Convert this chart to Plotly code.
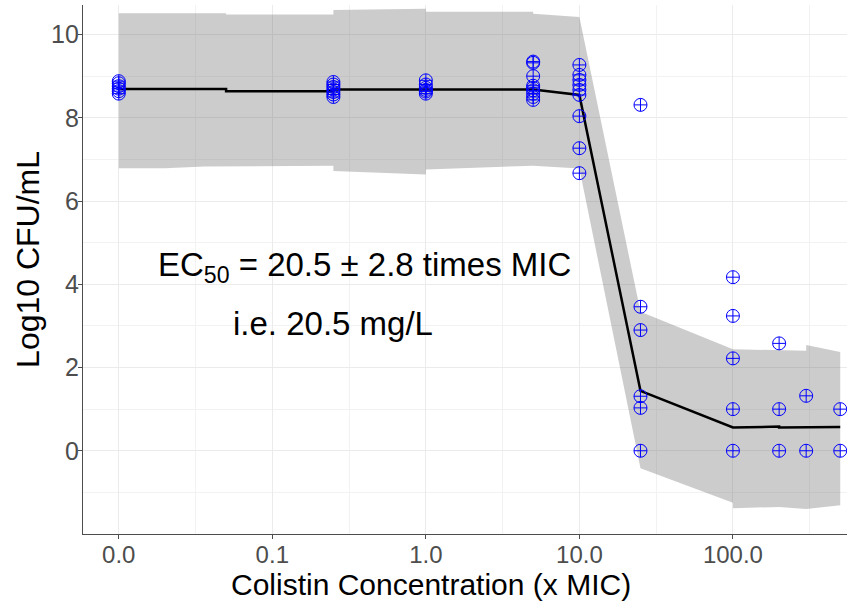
import plotly.graph_objects as go

# ---------------- data ----------------
ZERO_POS = 0.01  # where concentration 0 is shown on the log axis

conc_groups = [0, 0.25, 1, 5, 10, 25, 100, 200, 300, 500]
log_cfu_groups = [
    [8.88, 8.83, 8.76, 8.70, 8.64, 8.58],
    [8.86, 8.80, 8.74, 8.68, 8.62, 8.56, 8.50],
    [8.90, 8.80, 8.72, 8.67, 8.63, 8.58],
    [9.35, 9.32, 9.00, 8.77, 8.72, 8.66, 8.58, 8.50, 8.43],
    [9.27, 9.03, 8.91, 8.79, 8.67, 8.55, 8.04, 7.27, 6.67],
    [8.31, 3.46, 2.90, 1.31, 1.03, 0.00],
    [4.17, 3.24, 2.22, 1.00, 0.00],
    [2.58, 1.00, 0.00],
    [1.32, 0.00],
    [1.00, 0.00],
]

# model median
med_x = [0, 0.05, 0.05, 0.25, 0.25, 5, 10, 25, 100, 200, 200, 300, 500]
med_y = [8.69, 8.69, 8.64, 8.64, 8.68, 8.68, 8.55, 1.44, 0.56, 0.58, 0.56, 0.57, 0.57]

# prediction interval (upper / lower edges)
rib_up_x = [0, 0.05, 0.05, 0.25, 0.25, 0.5, 1, 1, 5, 5, 10, 25, 100, 300, 300, 500]
rib_up_y = [10.51, 10.51, 10.48, 10.48, 10.59, 10.60, 10.62, 10.55, 10.55, 10.50, 10.42,
            3.34, 2.44, 2.40, 2.54, 2.37]
rib_lo_x = [0, 0.02, 0.036, 0.25, 0.25, 0.315, 1, 1, 5, 10, 25, 100, 100, 200, 300, 500]
rib_lo_y = [6.79, 6.79, 6.83, 6.85, 6.72, 6.71, 6.64, 6.76, 6.85, 6.78,
            -0.42, -1.25, -1.38, -1.35, -1.40, -1.31]

x_tickvals = [0.01, 0.1, 1, 10, 100]
x_ticktext = ["0.0", "0.1", "1.0", "10.0", "100.0"]
x_minorvals = [0.0316, 0.316, 3.16, 31.6, 316]
y_tickvals = [0, 2, 4, 6, 8, 10]

annot_line1 = "EC<sub>50</sub> = 20.5 ± 2.8 times MIC"
annot_line2 = "i.e. 20.5 mg/L"
x_title = "Colistin Concentration (x MIC)"
y_title = "Log10 CFU/mL"


def pos(c):
    return ZERO_POS if c == 0 else c


FONT = "Liberation Sans, Arial, sans-serif"

obs_x, obs_y = [], []
for c, vals in zip(conc_groups, log_cfu_groups):
    for v in vals:
        obs_x.append(pos(c))
        obs_y.append(v)

poly_x = [pos(c) for c in rib_up_x] + [pos(c) for c in reversed(rib_lo_x)]
poly_y = list(rib_up_y) + list(reversed(rib_lo_y))

fig = go.Figure()
fig.add_trace(go.Scatter(
    x=poly_x, y=poly_y, mode="lines", fill="toself",
    fillcolor="rgba(85,85,85,0.30)", line=dict(width=0),
    hoverinfo="skip", showlegend=False))
fig.add_trace(go.Scatter(
    x=[pos(c) for c in med_x], y=med_y, mode="lines",
    line=dict(color="black", width=2.5), showlegend=False))
fig.add_trace(go.Scatter(
    x=obs_x, y=obs_y, mode="markers",
    marker=dict(symbol="circle-cross-open", size=13, color="#0000FF",
                line=dict(width=1, color="#0000FF")),
    showlegend=False))

# white box behind the EC50 text
fig.add_shape(type="rect", xref="paper", yref="paper",
              x0=0.031, x1=0.641, y0=0.344, y1=0.609,
              fillcolor="white", line=dict(width=0), layer="between")

fig.add_annotation(text=annot_line1, xref="paper", yref="paper",
                   x=0.368, y=0.505, xanchor="center", yanchor="middle",
                   showarrow=False, font=dict(family=FONT, size=33, color="black"))
fig.add_annotation(text=annot_line2, xref="paper", yref="paper",
                   x=0.327, y=0.398, xanchor="center", yanchor="middle",
                   showarrow=False, font=dict(family=FONT, size=33, color="black"))
fig.add_annotation(text=x_title, xref="paper", yref="paper",
                   x=0.455, y=-0.1285, xanchor="center", yanchor="bottom",
                   borderpad=0,
                   showarrow=False, font=dict(family=FONT, size=30, color="black"))
fig.add_annotation(text=y_title, xref="paper", yref="paper",
                   x=-0.072, y=0.52, xanchor="center", yanchor="middle",
                   textangle=-90, showarrow=False,
                   font=dict(family=FONT, size=32, color="black"))

fig.update_layout(
    width=847, height=602,
    margin=dict(l=83, r=0, t=5, b=68),
    paper_bgcolor="white", plot_bgcolor="white",
    font=dict(family=FONT),
    showlegend=False,
    xaxis=dict(
        type="log", range=[-2.233, 2.743],
        tickmode="array", tickvals=x_tickvals, ticktext=x_ticktext,
        tickfont=dict(family=FONT, size=24, color="#4D4D4D"),
        showline=True, linecolor="#4D4D4D", linewidth=1.3,
        ticks="outside", ticklen=4, tickcolor="#4D4D4D",
        ticklabelstandoff=-5,
        showgrid=True, gridcolor="#EBEBEB", gridwidth=1.2,
        minor=dict(tickmode="array", tickvals=x_minorvals, showgrid=True,
                   gridcolor="#F2F2F2", gridwidth=1, ticks=""),
        zeroline=False,
    ),
    yaxis=dict(
        range=[-2.0, 10.71],
        tickmode="array", tickvals=y_tickvals,
        tickfont=dict(family=FONT, size=25, color="#4D4D4D"),
        showline=True, linecolor="#4D4D4D", linewidth=1.3,
        ticks="outside", ticklen=4, tickcolor="#4D4D4D",
        ticklabelstandoff=-6,
        showgrid=True, gridcolor="#EBEBEB", gridwidth=1.2,
        minor=dict(dtick=1, tick0=0, showgrid=True,
                   gridcolor="#F2F2F2", gridwidth=1, ticks=""),
        zeroline=False,
    ),
)

fig.write_html("out.html")
